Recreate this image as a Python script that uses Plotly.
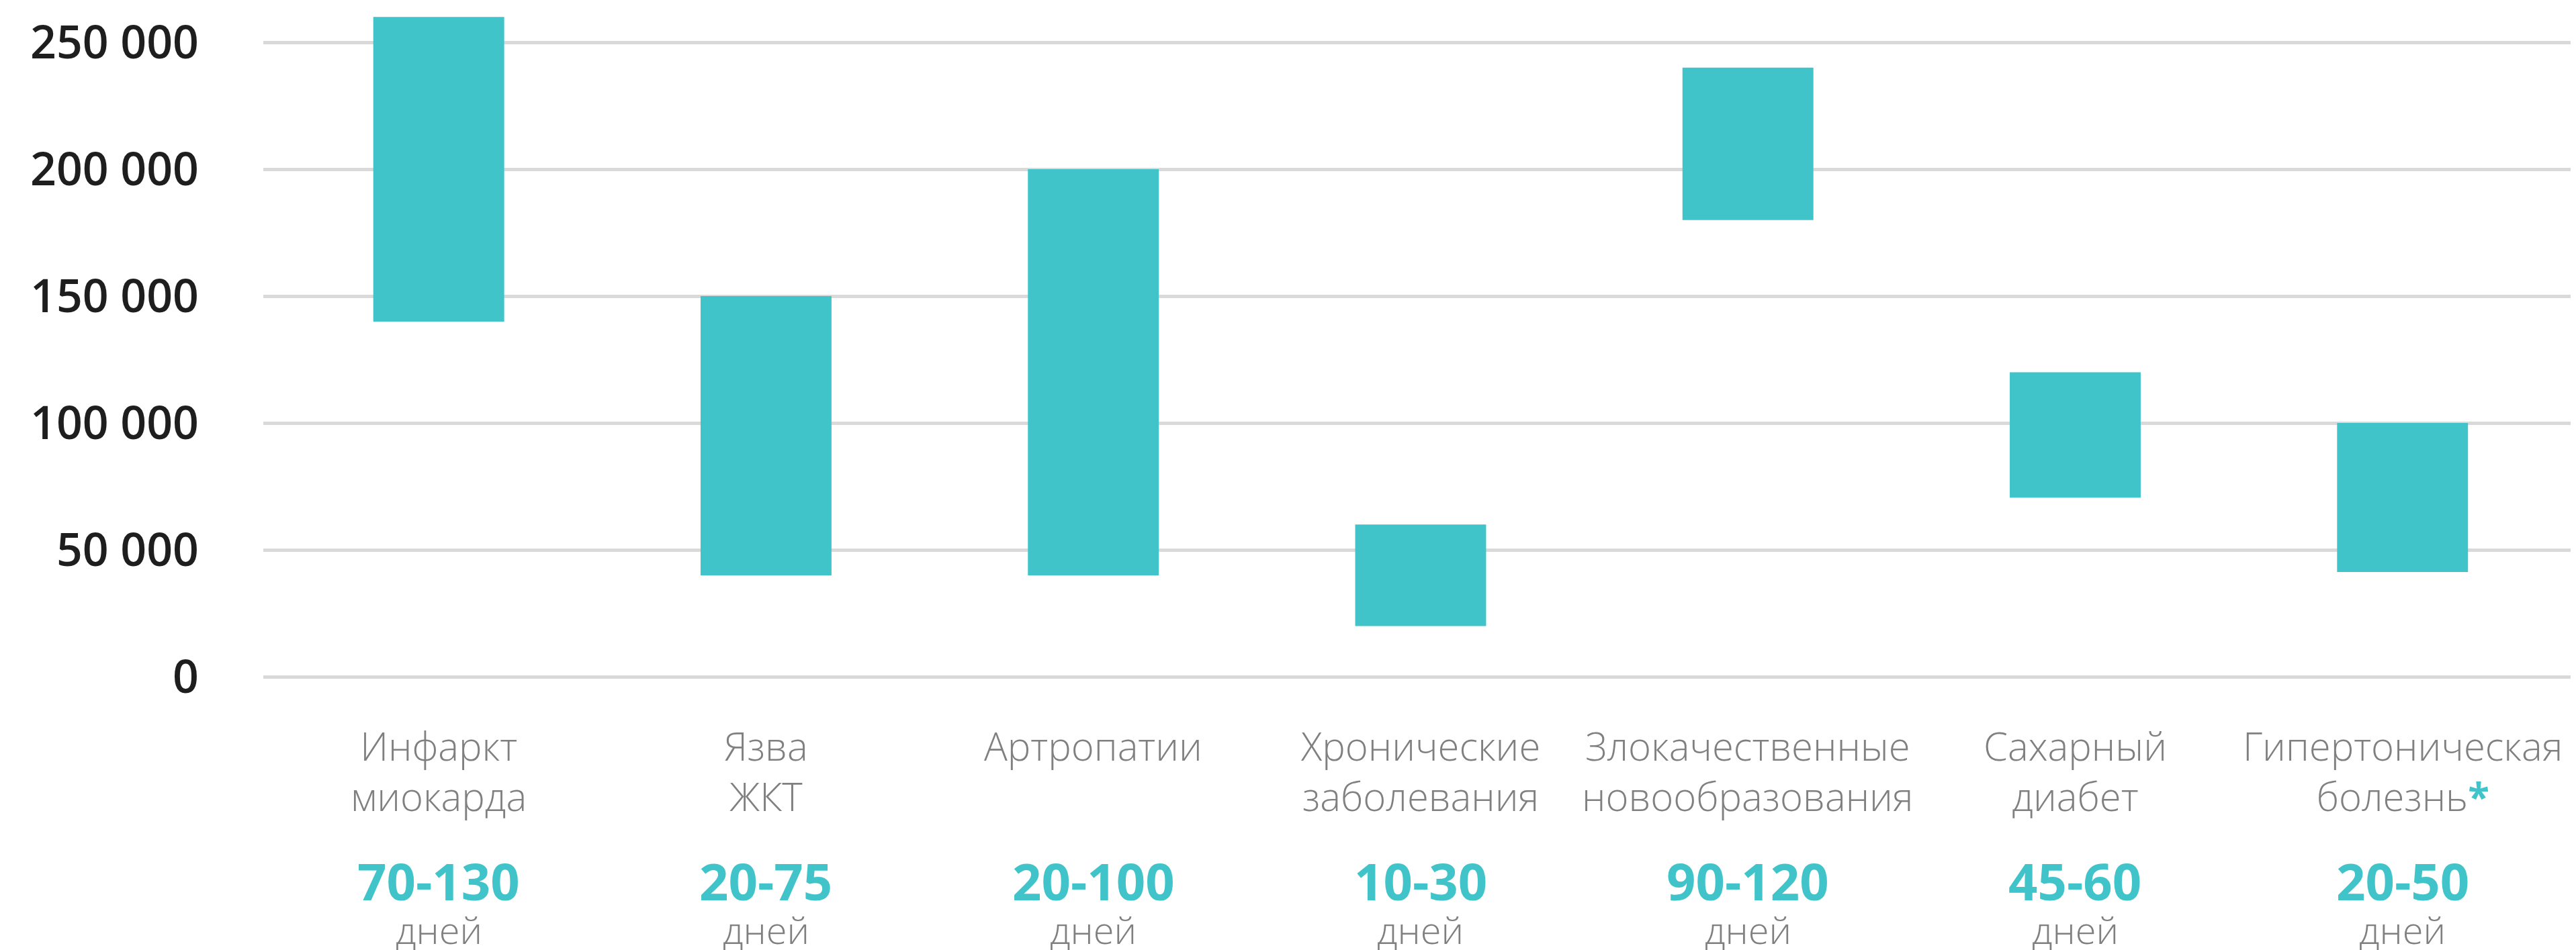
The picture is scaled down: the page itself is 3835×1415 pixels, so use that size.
import plotly.graph_objects as go

categories = ["Инфаркт<br>миокарда", "Язва<br>ЖКТ", "Артропатии", "Хронические<br>заболевания",
              "Злокачественные<br>новообразования", "Сахарный<br>диабет",
              "Гипертоническая<br>болезнь<span style='color:#40c4ca'><b>*</b></span>"]
low_values = [140000, 40000, 40000, 20000, 180000, 70600, 41300]
high_values = [260000, 150000, 200000, 60000, 240000, 120000, 100000]
day_ranges = ["70-130", "20-75", "20-100", "10-30", "90-120", "45-60", "20-50"]
day_unit = "дней"
y_tickvals = [0, 50000, 100000, 150000, 200000, 250000]
y_ticktext = ["0", "50 000", "100 000", "150 000", "200 000", "250 000"]

TEAL = "#40c4ca"
GREY = "#808080"
OFF = 8  # default page body margin
W, H = 3835 - OFF, 1415 - OFF
MT, MB = 0, 369
PLOT_H = H - MT - MB

def py(page_pix):
    return (PLOT_H - (page_pix - OFF - MT)) / PLOT_H

xs = list(range(len(categories)))
fig = go.Figure()
fig.add_trace(go.Bar(
    x=xs,
    y=[h - l for h, l in zip(high_values, low_values)],
    base=low_values,
    width=0.4,
    marker=dict(color=TEAL, line=dict(width=0)),
    hoverinfo="skip",
))

annotations = []
for i, (cat, dr) in enumerate(zip(categories, day_ranges)):
    annotations.append(dict(x=i, xref="x", y=py(1069), yref="paper", yanchor="top",
                            text=cat, showarrow=False,
                            font=dict(family="Open Sans", size=58, color=GREY, weight=300)))
    annotations.append(dict(x=i, xref="x", y=py(1311), yref="paper", yanchor="middle",
                            text=dr, showarrow=False, borderpad=0,
                            font=dict(family="Open Sans", size=76, color=TEAL, weight=700)))
    annotations.append(dict(x=i, xref="x", y=py(1384), yref="paper", yanchor="middle",
                            text=day_unit, showarrow=False, borderpad=0,
                            font=dict(family="Open Sans", size=56, color=GREY, weight=300)))

fig.update_layout(
    width=W, height=H,
    margin=dict(l=392 - OFF, r=0, t=MT, b=MB, pad=0),
    paper_bgcolor="white", plot_bgcolor="white",
    showlegend=False,
    annotations=annotations,
    xaxis=dict(range=[-0.536, 6.53], showgrid=False, zeroline=False, showticklabels=False,
               showline=False, ticks=""),
    yaxis=dict(range=[-10000, 264550], tickvals=y_tickvals, ticktext=y_ticktext,
               showgrid=True, gridcolor="#d9d9d9", gridwidth=5, zeroline=False,
               showline=False, ticks="", ticklabelstandoff=95,
               tickfont=dict(family="Open Sans", size=68, color="#1e1e1e", weight=600)),
)

fig.write_html("out.html")
